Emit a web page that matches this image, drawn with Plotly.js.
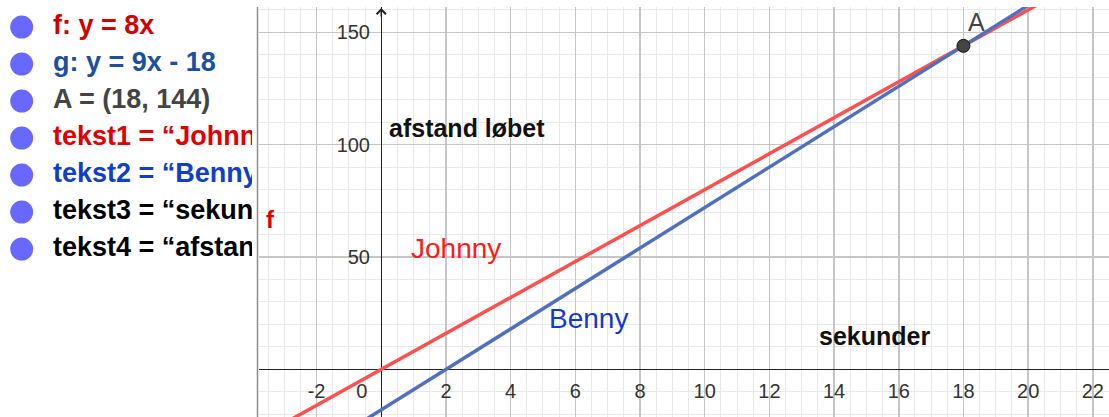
<!DOCTYPE html>
<html>
<head>
<meta charset="utf-8">
<script src="https://cdn.plot.ly/plotly-3.0.1.min.js"></script>
<style>html,body{margin:0;padding:0;background:#fff;}#chart{width:1109px;height:417px;}</style>
</head>
<body>
<div id="chart"></div>
<script>
// ---- data ----
const fX = [-4, 23];
const fY = [-32, 184];
const gX = [-4, 23];
const gY = [-54, 189];
const pointAX = [18];
const pointAY = [144];
const xTickVals = [-2, 0, 2, 4, 6, 8, 10, 12, 14, 16, 18, 20, 22];
const xTickText = ['-2', '0\u00a0\u00a0\u00a0\u00a0\u00a0\u00a0\u00a0', '2', '4', '6', '8', '10', '12', '14', '16', '18', '20', '22'];
const yTickVals = [50, 100, 150];
const yTickText = ['50', '100', '150'];
const algebraRows = [0, 1, 2, 3, 4, 5, 6];
const algebraText = ['f: y = 8x', 'g: y = 9x - 18', 'A = (18, 144)', 'tekst1 = “Johnny”', 'tekst2 = “Benny”', 'tekst3 = “sekunder”', 'tekst4 = “afstand løbet”'];
const algebraColors = ['#d40000', '#1c4fa0', '#444444', '#e00000', '#1040c8', '#000000', '#000000'];

const FONT = 'Liberation Sans, Arial, sans-serif';
const W = 1109, H = 417;

const traces = [
  {x: fX, y: fY, mode: 'lines', line: {color: 'rgb(255,80,80)', width: 3.5}, hoverinfo: 'skip', xaxis: 'x', yaxis: 'y'},
  {x: gX, y: gY, mode: 'lines', line: {color: 'rgb(80,112,190)', width: 3.5}, hoverinfo: 'skip', xaxis: 'x', yaxis: 'y'},
  {x: pointAX, y: pointAY, mode: 'markers', marker: {color: '#444444', size: 13, line: {color: '#111', width: 1}}, xaxis: 'x', yaxis: 'y'},
  {x: algebraRows.map(() => 0), y: algebraRows, mode: 'markers', marker: {color: '#6868ff', size: 23}, xaxis: 'x3', yaxis: 'y3', hoverinfo: 'skip'},
  {x: algebraRows.map(() => 1), y: algebraRows, mode: 'text', text: algebraText.map(t => '<b>' + t + '</b>'),
   textposition: 'middle right', textfont: {family: FONT, size: 27, color: algebraColors}, cliponaxis: true,
   xaxis: 'x3', yaxis: 'y3', hoverinfo: 'skip'}
];

const layout = {
  width: W, height: H,
  margin: {l: 0, r: 0, t: 0, b: 0},
  paper_bgcolor: '#ffffff', plot_bgcolor: '#ffffff',
  showlegend: false,
  font: {family: FONT},
  xaxis: {
    domain: [259 / W, 1], range: [-3.78, 22.5], anchor: 'y',
    tickmode: 'array', tickvals: xTickVals, ticktext: xTickText,
    showgrid: true, gridcolor: '#c6c6c6', gridwidth: 1.5,
    minor: {dtick: 0.5, tick0: 0, showgrid: true, gridcolor: '#e9e9e9', gridwidth: 1},
    zeroline: true, zerolinecolor: '#222', zerolinewidth: 1.5,
    showline: false, ticks: '',
    tickfont: {family: FONT, size: 20, color: '#333'},
    ticklabelstandoff: -40
  },
  yaxis: {
    domain: [0, 1 - 7 / H], range: [-21.2, 161.3], anchor: 'x',
    tickmode: 'array', tickvals: yTickVals, ticktext: yTickText,
    showgrid: true, gridcolor: '#c6c6c6', gridwidth: 1.5,
    minor: {dtick: 10, tick0: 0, showgrid: true, gridcolor: '#e9e9e9', gridwidth: 1},
    zeroline: true, zerolinecolor: '#222', zerolinewidth: 1.5,
    showline: false, ticks: '',
    tickfont: {family: FONT, size: 20, color: '#333'},
    ticklabelstandoff: -112
  },
  xaxis3: {domain: [0, 252 / W], range: [-0.693, 7.36], anchor: 'y3', visible: false, fixedrange: true},
  yaxis3: {domain: [0, 1], range: [10.54, -0.73], anchor: 'x3', visible: false, fixedrange: true},
  shapes: [
    {type: 'line', xref: 'paper', yref: 'paper', x0: 257.5 / W, x1: 257.5 / W, y0: 0, y1: 1 - 7 / H,
     line: {color: '#8a8a8a', width: 1.5}}
  ],
  annotations: [
    {x: 0, y: 160.8, xref: 'x', yref: 'y', ax: 0, ay: 10, axref: 'pixel', ayref: 'pixel', text: '', showarrow: true, arrowhead: 4, arrowsize: 1.2, arrowwidth: 1.5, arrowcolor: '#222'},
    {x: 2.31, y: 54, xref: 'x', yref: 'y', text: 'Johnny', showarrow: false, font: {family: FONT, size: 28, color: '#ff1a1a'}},
    {x: 6.42, y: 22.8, xref: 'x', yref: 'y', text: 'Benny', showarrow: false, font: {family: FONT, size: 28, color: '#1438c8'}},
    {x: 15.26, y: 14.8, xref: 'x', yref: 'y', text: '<b>sekunder</b>', showarrow: false, font: {family: FONT, size: 25, color: '#111'}},
    {x: 0.17, y: 107.4, xref: 'x', yref: 'y', xanchor: 'left', text: '<b>afstand løbet</b>', showarrow: false, font: {family: FONT, size: 25, color: '#111'}},
    {x: -3.44, y: 66.5, xref: 'x', yref: 'y', text: '<b>f</b>', showarrow: false, font: {family: FONT, size: 24, color: '#e00000'}},
    {x: 18.4, y: 154.6, xref: 'x', yref: 'y', text: 'A', showarrow: false, font: {family: FONT, size: 25, color: '#444'}}
  ]
};

Plotly.newPlot('chart', traces, layout, {staticPlot: true, displayModeBar: false});
</script>
</body>
</html>
